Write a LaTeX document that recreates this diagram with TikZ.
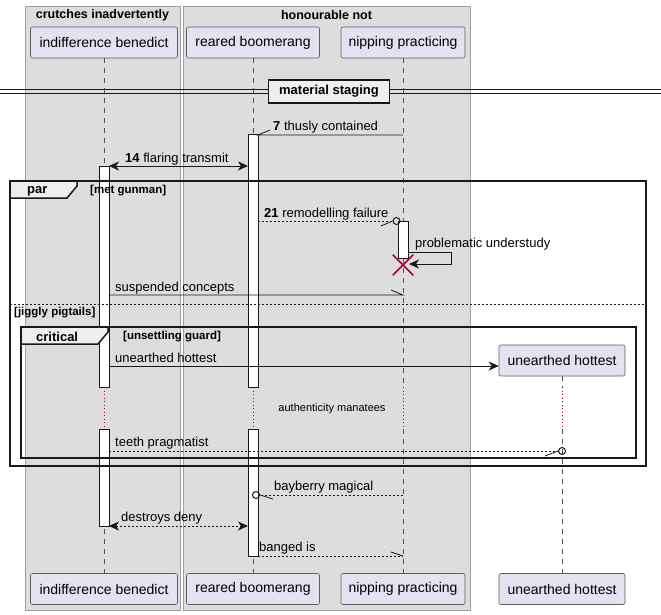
\documentclass[tikz,border=0pt]{standalone}
\usepackage{fontspec}
\setmainfont{Liberation Sans}
\usetikzlibrary{arrows.meta,positioning,shapes.misc}
\definecolor{boxgray}{HTML}{DDDDDD}
\definecolor{partfill}{HTML}{E2E2F0}
\definecolor{ink}{HTML}{181818}
\definecolor{tabfill}{HTML}{EEEEEE}
\definecolor{destroyred}{HTML}{A80036}
\tikzstyle{ndbox} = [draw=gray!75, line width=0.6pt, fill=boxgray]
\tikzstyle{ndtitle} = [inner sep=0pt, font=\fontsize{12.5}{14}\selectfont\bfseries]
\tikzstyle{ndpart} = [draw=ink!70, line width=0.6pt, fill=partfill, rounded corners=2pt, minimum height=31pt, inner sep=0pt, font=\fontsize{14}{16}\selectfont]
\tikzstyle{ndact} = [draw=ink, line width=1pt, fill=white, minimum width=10pt, inner sep=0pt]
\tikzstyle{nddiv} = [draw=ink, line width=1.5pt, fill=tabfill, minimum width=121pt, minimum height=23pt, inner sep=0pt, font=\fontsize{13}{15}\selectfont\bfseries]
\tikzstyle{ndlbl} = [anchor=base west, inner sep=0pt, font=\fontsize{13}{15}\selectfont]
\tikzstyle{ndguard} = [anchor=west, inner sep=0pt, font=\fontsize{11.5}{13}\selectfont\bfseries]
\tikzstyle{ndtablbl} = [anchor=west, inner sep=0pt, font=\fontsize{13}{15}\selectfont\bfseries]
\tikzstyle{ndcirc} = [circle, draw=ink, line width=1pt, minimum size=7pt, inner sep=0pt]
\tikzstyle{ndframe} = [draw=ink, line width=1.5pt]
\tikzstyle{ndtab} = [draw=ink, line width=1.5pt, fill=tabfill]
\tikzstyle{lifeline} = [style={ink!75, line width=0.6pt, dash pattern=on 5pt off 5pt}]
\tikzstyle{delayline} = [style={destroyred, line width=1pt, dash pattern=on 1pt off 2.5pt}]
\tikzstyle{arplain} = [style={ink, line width=0.8pt}]
\tikzstyle{ardash} = [style={ink, line width=0.8pt, dash pattern=on 2pt off 2pt}]
\tikzstyle{armsg} = [style={-{Stealth[length=10pt,width=9pt,inset=3pt]}, ink, line width=0.8pt}]
\tikzstyle{arboth} = [style={{Stealth[length=10pt,width=9pt,inset=3pt]}-{Stealth[length=10pt,width=9pt,inset=3pt]}, ink, line width=0.8pt}]

\begin{document}
\begin{tikzpicture}[x=1pt, y=-1pt]
	\useasboundingbox (0,0) rectangle (661,615);
	% boxes
	\draw[ndbox] (25,6) rectangle (180,610);
	\draw[ndbox] (183,6) rectangle (470,610);
	\node[ndtitle] (b1) at (102.5,15) {crutches inadvertently};
	\node[ndtitle] (b2) at (326.5,15) {honourable not};
	% divider
	\draw[arplain, line width=1pt] (0,90) -- (661,90);
	\draw[arplain, line width=1pt] (0,94) -- (661,94);
	\node[nddiv] (dv) at (329,91.5) {material staging};
	% participants
	\node[ndpart, minimum width=147pt] (p1) at (104,42.5) {indifference benedict};
	\node[ndpart, minimum width=133pt] (p2) at (253,42.5) {reared boomerang};
	\node[ndpart, minimum width=124pt] (p3) at (403,42.5) {nipping practicing};
	\node[ndpart, minimum width=126pt] (p4) at (562,360.5) {unearthed hottest};
	\node[ndpart, minimum width=147pt] (q1) at (104,589) {indifference benedict};
	\node[ndpart, minimum width=133pt] (q2) at (253,589) {reared boomerang};
	\node[ndpart, minimum width=124pt] (q3) at (403,589) {nipping practicing};
	\node[ndpart, minimum width=126pt] (q4) at (562,589) {unearthed hottest};
	% lifelines with delay
	\coordinate (d1a) at (104,387); \coordinate (d1b) at (104,429);
	\coordinate (d2a) at (253,387); \coordinate (d2b) at (253,429);
	\coordinate (d3a) at (403,387); \coordinate (d3b) at (403,429);
	\coordinate (d4a) at (562,387); \coordinate (d4b) at (562,429);
	\draw[lifeline] (p1) -- (d1a); \draw[delayline] (d1a) -- (d1b); \draw[lifeline] (d1b) -- (q1);
	\draw[lifeline] (p2) -- (d2a); \draw[delayline] (d2a) -- (d2b); \draw[lifeline] (d2b) -- (q2);
	\draw[lifeline] (p3) -- (d3a); \draw[delayline] (d3a) -- (d3b); \draw[lifeline] (d3b) -- (q3);
	\draw[lifeline] (p4) -- (d4a); \draw[delayline] (d4a) -- (d4b); \draw[lifeline] (d4b) -- (q4);
	% activations
	\node[ndact, minimum height=252pt] (a1) at (253,261) {};
	\node[ndact, minimum height=127pt] (a2) at (253,492.5) {};
	\node[ndact, minimum height=221pt] (a3) at (104,276.5) {};
	\node[ndact, minimum height=97pt] (a4) at (104,477.5) {};
	\node[ndact, minimum height=37pt] (a5) at (403,239.5) {};
	% frames
	\draw[ndframe] (10,181) rectangle (646,466);
	\draw[ndtab] (10,181) -- (77,181) -- (77,186) -- (67,198) -- (10,198) -- cycle;
	\node[ndtablbl] (f1) at (27,191.5) {par};
	\node[ndguard] (g1) at (90,191) {[met gunman]};
	\draw[ndframe, dash pattern=on 2pt off 2pt, line width=0.8pt] (10,304) -- (646,304);
	\node[ndguard] (g2) at (14,313) {[jiggly pigtails]};
	\draw[ndframe] (21,327) rectangle (636,458);
	\draw[ndtab] (21,327) -- (108,327) -- (108,332) -- (98,344) -- (21,344) -- cycle;
	\node[ndtablbl] (f2) at (36,337) {critical};
	\node[ndguard] (g3) at (123,337) {[unsettling guard]};
	% messages
	\coordinate (m7a) at (403,135); \coordinate (m7b) at (258,135); \coordinate (m7c) at (270,130);
	\draw[arplain] (m7a) -- (m7b) -- (m7c);
	\node[ndlbl] (t7) at (273,131) {\textbf{7} thusly contained};
	\coordinate (m14a) at (109,166); \coordinate (m14b) at (248,166);
	\draw[arboth] (m14a) -- (m14b);
	\node[ndlbl] (t14) at (125,162) {\textbf{14} flaring transmit};
	\coordinate (m21a) at (258,221); \coordinate (m21c) at (381,226);
	\node[ndcirc] (o21) at (396.5,221) {};
	\draw[ardash] (m21a) -- (o21);
	\draw[arplain] (m21c) -- (o21.west);
	\node[ndlbl] (t21) at (264,217) {\textbf{21} remodelling failure};
	\coordinate (s1) at (408,252); \coordinate (s2) at (451,252); \coordinate (s3) at (451,264); \coordinate (s4) at (409,264);
	\draw[armsg] (s1) -- (s2) -- (s3) -- (s4);
	\node[ndlbl] (ts) at (415,247) {problematic understudy};
	\node[cross out, draw=destroyred, line width=1.5pt, minimum size=19pt, inner sep=0pt] (x1) at (403,265) {};
	\coordinate (mSa) at (109,295); \coordinate (mSb) at (403,295); \coordinate (mSc) at (391,290);
	\draw[arplain] (mSa) -- (mSb) -- (mSc);
	\node[ndlbl] (tS) at (115,291) {suspended concepts};
	\coordinate (mUa) at (109,366);
	\draw[armsg] (mUa) -- (p4.west |- mUa);
	\node[ndlbl] (tU) at (115,362) {unearthed hottest};
	\node[inner sep=0pt, font=\fontsize{11}{13}\selectfont] (dl) at (332,409) {authenticity manatees};
	\coordinate (mTa) at (109,451); \coordinate (mTc) at (545,456);
	\node[ndcirc] (oT) at (562,451) {};
	\draw[ardash] (mTa) -- (oT);
	\draw[arplain] (mTc) -- (oT.west);
	\node[ndlbl] (tT) at (115,446) {teeth pragmatist};
	\coordinate (mBa) at (403,495); \coordinate (mBc) at (273,499);
	\node[ndcirc] (oB) at (256,495) {};
	\draw[ardash] (mBa) -- (oB);
	\draw[arplain] (mBc) -- (oB.east);
	\node[ndlbl] (tB) at (274,490) {bayberry magical};
	\coordinate (mDa) at (109,526); \coordinate (mDb) at (248,526);
	\draw[arboth, dash pattern=on 2pt off 2pt] (mDa) -- (mDb);
	\node[ndlbl] (tD) at (121,521) {destroys deny};
	\coordinate (mGa) at (258,556); \coordinate (mGb) at (403,556); \coordinate (mGc) at (391,552);
	\draw[ardash] (mGa) -- (mGb);
	\draw[arplain] (mGb) -- (mGc);
	\node[ndlbl] (tG) at (259,551) {banged is};
\end{tikzpicture}
\end{document}
